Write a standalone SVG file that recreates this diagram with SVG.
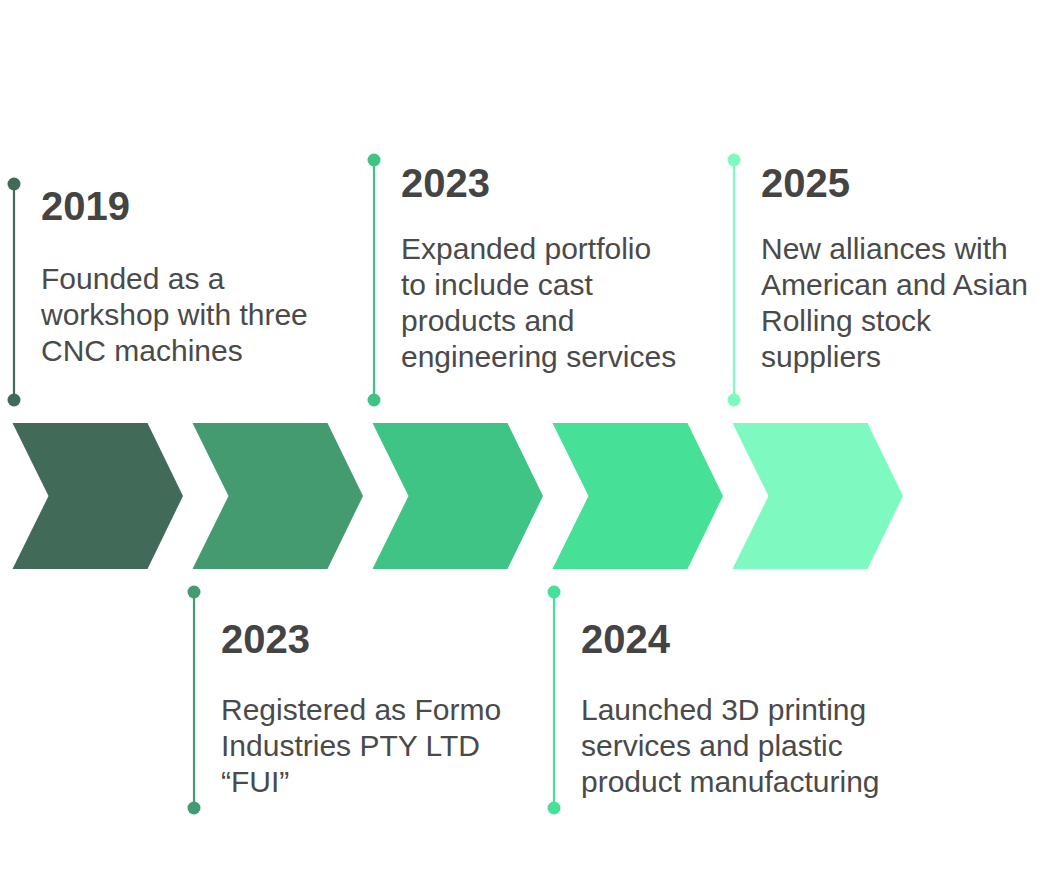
<svg xmlns="http://www.w3.org/2000/svg" width="1047" height="895" viewBox="0 0 1047 895">
<style>
.yr{font-family:"Liberation Sans",Arial,sans-serif;font-weight:bold;font-size:40px;fill:#444444}
.bd{font-family:"Liberation Sans",Arial,sans-serif;font-size:30px;fill:#4a4a4a}
.ln{stroke-width:2.2;fill:none}
</style>
<rect width="1047" height="895" fill="#ffffff"/>
<g id="chevrons">
<polygon id="chev1" points="12.5,423 147.5,423 183,496 147.5,569 12.5,569 48.5,496" fill="#416a59"/>
<polygon id="chev2" points="192.5,423 327.5,423 363,496 327.5,569 192.5,569 228.5,496" fill="#449b70"/>
<polygon id="chev3" points="372.5,423 507.5,423 543,496 507.5,569 372.5,569 408.5,496" fill="#40c485"/>
<polygon id="chev4" points="552.5,423 687.5,423 723,496 687.5,569 552.5,569 588.5,496" fill="#46e097"/>
<polygon id="chev5" points="732.5,423 867.5,423 903,496 867.5,569 732.5,569 768.5,496" fill="#7ef9bf"/>
</g>
<g id="connectors">
<line class="ln" x1="14" y1="184" x2="14" y2="400" stroke="#416a59"/>
<line class="ln" x1="194" y1="592" x2="194" y2="808" stroke="#449b70"/>
<line class="ln" x1="374" y1="160" x2="374" y2="400" stroke="#40c485"/>
<line class="ln" x1="554" y1="592" x2="554" y2="808" stroke="#46e097"/>
<line class="ln" x1="734" y1="160" x2="734" y2="400" stroke="#7ef9bf"/>
</g>
<g id="event2019">
<circle cx="14" cy="184" r="6.5" fill="#416a59"/>
<circle cx="14" cy="400" r="6.5" fill="#416a59"/>
<text class="yr" x="41" y="220">2019</text>
<text class="bd" x="41" y="289">Founded as a</text>
<text class="bd" x="41" y="325">workshop with three</text>
<text class="bd" x="41" y="361">CNC machines</text>
</g>
<g id="event2023a">
<circle cx="194" cy="592" r="6.5" fill="#449b70"/>
<circle cx="194" cy="808" r="6.5" fill="#449b70"/>
<text class="yr" x="221" y="653">2023</text>
<text class="bd" x="221" y="720">Registered as Formo</text>
<text class="bd" x="221" y="756">Industries PTY LTD</text>
<text class="bd" x="221" y="792">“FUI”</text>
</g>
<g id="event2023b">
<circle cx="374" cy="160" r="6.5" fill="#40c485"/>
<circle cx="374" cy="400" r="6.5" fill="#40c485"/>
<text class="yr" x="401" y="197">2023</text>
<text class="bd" x="401" y="259">Expanded portfolio</text>
<text class="bd" x="401" y="295">to include cast</text>
<text class="bd" x="401" y="331">products and</text>
<text class="bd" x="401" y="367">engineering services</text>
</g>
<g id="event2024">
<circle cx="554" cy="592" r="6.5" fill="#46e097"/>
<circle cx="554" cy="808" r="6.5" fill="#46e097"/>
<text class="yr" x="581" y="653">2024</text>
<text class="bd" x="581" y="720">Launched 3D printing</text>
<text class="bd" x="581" y="756">services and plastic</text>
<text class="bd" x="581" y="792">product manufacturing</text>
</g>
<g id="event2025">
<circle cx="734" cy="160" r="6.5" fill="#7ef9bf"/>
<circle cx="734" cy="400" r="6.5" fill="#7ef9bf"/>
<text class="yr" x="761" y="197">2025</text>
<text class="bd" x="761" y="259">New alliances with</text>
<text class="bd" x="761" y="295">American and Asian</text>
<text class="bd" x="761" y="331">Rolling stock</text>
<text class="bd" x="761" y="367">suppliers</text>
</g>
</svg>
